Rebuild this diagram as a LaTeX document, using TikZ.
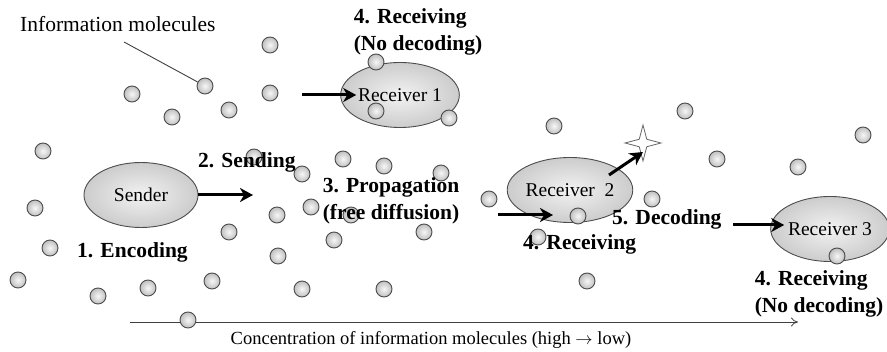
\documentclass[tikz,border=0pt]{standalone}
\usepackage{fontspec}
\setmainfont{Liberation Serif}
\usetikzlibrary{shapes.geometric,arrows.meta,positioning}
\tikzset
{
    party/.style      = {ellipse, draw=black!70, line width=0.9pt, inner color=black!5, outer color=black!20, minimum width=114pt, minimum height=65pt, inner sep=0pt, font=\fontsize{19.5}{22}\selectfont},
    molecule/.style   = {circle, draw=black!70, line width=0.9pt, inner color=black!3, outer color=black!25, minimum size=16pt, inner sep=0pt},
    push/.style       = {line width=3pt, -{Stealth[length=13pt,width=14pt,inset=4pt]}},
    stagelabel/.style = {font=\fontsize{21.5}{27}\selectfont\bfseries, inner sep=0pt},
    note/.style       = {font=\fontsize{21.5}{24}\selectfont, inner sep=0pt}
}

\begin{document}
\begin{tikzpicture}[x=1pt, y=-1pt]
    \useasboundingbox (0,0) rectangle (887,352);

    \coordinate (axl) at (130,322);
    \coordinate (axr) at (798,322);
    \draw [line width=0.8pt, black!75, -{To[length=7pt,width=9pt]}] (axl) -- (axr);
    \node [font=\fontsize{18.5}{22}\selectfont, inner sep=0pt] (conc) at (431,340) {Concentration of information molecules (high $\rightarrow$ low)};

    \node [party] (snd) at (141,195) {Sender};
    \node [party] (rx1) at (400,95)  {Receiver 1};
    \node [party] (rx2) at (570,190) {Receiver\ \ 2};
    \node [party] (rx3) at (830,229) {Receiver 3};

    \foreach \x/\y [count=\i] in {270/45, 205/86, 132/94, 270/93, 229/110, 172/117, 43/151, 254/157,
                                  376/62, 376/111, 449/118, 554/126, 343/159, 384/166, 302/174, 441/173,
                                  489/199, 311/207, 277/215, 351/215, 229/232, 334/240, 424/232, 278/256,
                                  212/281, 302/289, 384/289, 188/320, 35/208, 50/248, 18/280, 98/296,
                                  148/288, 685/111, 578/216, 538/237, 587/281, 717/159, 798/167, 863/135,
                                  652/199, 837/256}
        \node [molecule] (m\i) at (\x,\y) {};

    \node [note, anchor=base west] (info) at (20,32) {Information molecules};
    \coordinate (infoend) at (124,42);
    \draw [line width=0.9pt, black!75] (infoend) -- (m2);

    \node [star, star points=4, star point ratio=3.4, minimum size=36pt, inner sep=0pt, draw=black!60, fill=white, line width=0.8pt] (spark) at (643,143) {};

    \coordinate (sendtip) at (253,195);
    \coordinate (tail1) at (302,95);
    \coordinate (tail2) at (498,215);
    \coordinate (tail3) at (733,225);
    \draw [push] (snd.east) -- (sendtip);
    \draw [push] (tail1) -- ([xshift=16pt]rx1.west);
    \draw [push] (tail2) -- ([xshift=-17pt, yshift=-25pt]rx2.center);
    \draw [push] ([xshift=39pt, yshift=15pt]rx2.center) -- ([yshift=-9pt]spark.center);
    \draw [push] (tail3) -- ([xshift=14pt, yshift=4pt]rx3.west);

    \node [stagelabel, align=left] (recv1) at (418,32) {4. Receiving\\(No decoding)};
    \node [stagelabel, anchor=base west] (send) at (198,168) {2. Sending};
    \node [stagelabel, align=center] (prop) at (391,201) {3. Propagation\\(free diffusion)};
    \node [stagelabel, anchor=base west] (enc) at (77,258) {1. Encoding};
    \node [stagelabel, anchor=base west] (recv2) at (523,250) {4. Receiving};
    \node [stagelabel, anchor=base west] (dec) at (612,225) {5. Decoding};
    \node [stagelabel, align=left] (recv3) at (819,294) {4. Receiving\\(No decoding)};
\end{tikzpicture}
\end{document}
